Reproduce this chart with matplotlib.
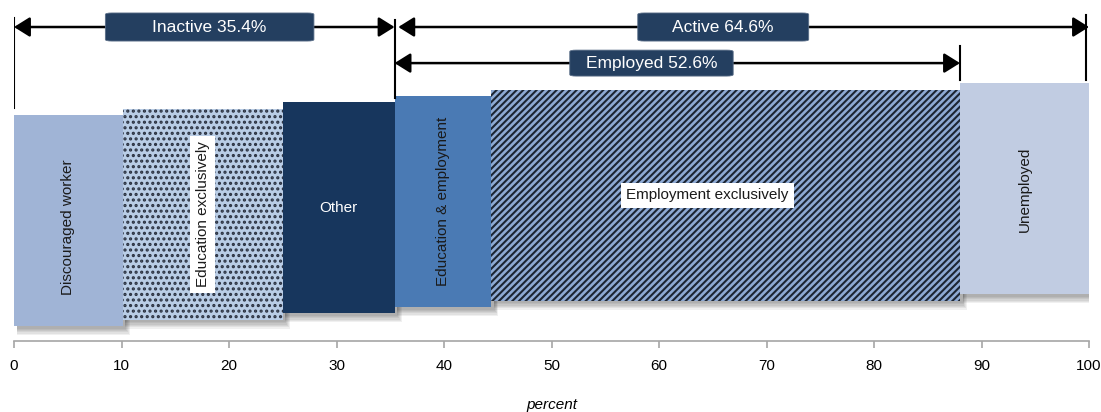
import matplotlib
matplotlib.use("Agg")
import numpy as np
import matplotlib.pyplot as plt
from matplotlib.patches import Rectangle, FancyBboxPatch

# -----------------------------
# DATA
# -----------------------------
categories = ["Discouraged worker", "Education exclusively", "Other",
              "Education & employment", "Employment exclusively", "Unemployed"]
shares = [10.1, 14.9, 10.4, 9.0, 43.6, 12.0]

groups = ["Inactive", "Active", "Employed"]
group_shares = [35.4, 64.6, 52.6]

xticks = [0, 10, 20, 30, 40, 50, 60, 70, 80, 90, 100]

# -----------------------------
# STYLE
# -----------------------------
FONT = ["Liberation Sans", "DejaVu Sans"]
plt.rcParams["hatch.linewidth"] = 1.5

fills = ["#a0b4d6", "#b9cde6", "#17365d", "#4a7ab4", "#8eaad4", "#c1cce2"]
hatches = [None, "...", None, None, "/////", None]
hatch_cols = [None, "#2a3140", None, None, "#1c2533", None]
label_cols = ["#1a1a1a", "#1a1a1a", "white", "#1a1a1a", "#1a1a1a", "#1a1a1a"]
label_rot = [90, 90, 0, 90, 0, 90]
label_box = [False, True, False, False, True, False]
label_dx = [0, 0, 0, 0, -1.7, 0]
label_dy = [-0.03, 0, 0, 0, 0, 0]
step = 0.03  # each bar sits a bit higher than the previous one
box_col = "#243f60"

fig = plt.figure(figsize=(11.01, 4.12), dpi=100)
ax = fig.add_axes([14 / 1101, 71 / 412, 1075 / 1101, 341 / 412])
ax.set_xlim(0, 100)
ax.set_ylim(-0.071, 1.545)

lefts = np.concatenate([[0], np.cumsum(shares)[:-1]])

# soft drop shadows, down and to the right only
for i, (l, w) in enumerate(zip(lefts, shares)):
    b = i * step
    for k in range(6):
        ax.add_patch(Rectangle((l + 0.25, b - 0.012 - k * 0.006), w + 0.08 * k, 0.9,
                               facecolor="black", edgecolor="none", alpha=0.06, zorder=1))

# bars
for i, (l, w) in enumerate(zip(lefts, shares)):
    b = i * step
    if hatches[i]:
        ax.add_patch(Rectangle((l, b), w, 1, facecolor=fills[i], edgecolor=hatch_cols[i],
                               hatch=hatches[i], linewidth=0, zorder=2))
    else:
        ax.add_patch(Rectangle((l, b), w, 1, facecolor=fills[i], edgecolor="none", zorder=2))

    bbox = dict(facecolor="white", edgecolor="none", pad=4) if label_box[i] else None
    ax.text(l + w / 2 + label_dx[i], b + 0.5 + label_dy[i], categories[i], rotation=label_rot[i],
            ha="center", va="center", color=label_cols[i], fontsize=11,
            family=FONT, bbox=bbox, zorder=4)

# -----------------------------
# BRACKETS
# -----------------------------
inactive_end = sum(shares[:3])
employed_end = inactive_end + sum(shares[3:5])

def bracket(x0, x1, y, text, box_w, box_dx, box_h):
    ax.annotate("", xy=(x1, y), xytext=(x0, y),
                arrowprops=dict(arrowstyle="<|-|>,head_length=0.4,head_width=0.25",
                                color="black", lw=1.8, mutation_scale=24,
                                shrinkA=0, shrinkB=0), zorder=5)
    cx = (x0 + x1) / 2 + box_dx
    ax.add_patch(FancyBboxPatch((cx - box_w / 2, y - box_h / 2), box_w, box_h,
                                boxstyle="round,pad=0,rounding_size=0.6",
                                mutation_aspect=0.012,
                                facecolor=box_col, edgecolor="#5a6e88", linewidth=0.6, zorder=6))
    ax.text(cx, y, text, ha="center", va="center", color="white",
            fontsize=12.5, family=FONT, zorder=7)

y_top = 1.417
y_emp = 1.246
bracket(0, inactive_end, y_top, f"{groups[0]} {group_shares[0]}%", 19.4, 0.5, 0.133)
bracket(inactive_end + 0.35, 100, y_top, f"{groups[1]} {group_shares[1]}%", 15.9, -1.9, 0.133)
bracket(inactive_end, employed_end, y_emp, f"{groups[2]} {group_shares[2]}%", 15.2, -2.4, 0.123)

# vertical guide lines
ax.plot([0, 0], [1.46, 1.033], color="black", lw=1.5, zorder=5)
ax.plot([inactive_end, inactive_end], [1.45, 1.08], color="black", lw=1.5, zorder=5)
ax.plot([99.7, 99.7], [1.474, 1.166], color="black", lw=1.5, zorder=5)
ax.plot([employed_end, employed_end], [1.327, 1.166], color="black", lw=1.5, zorder=5)

# -----------------------------
# AXES
# -----------------------------
for s in ["top", "right", "left"]:
    ax.spines[s].set_visible(False)
ax.spines["bottom"].set_color("#a6a6a6")
ax.spines["bottom"].set_linewidth(1.2)
ax.set_yticks([])
ax.set_xticks(xticks)
ax.set_xticklabels([str(t) for t in xticks], family=FONT, fontsize=11)
ax.tick_params(axis="x", direction="out", length=5, color="#a6a6a6", width=1.2, pad=8)
ax.set_xlabel("percent", family=FONT, fontsize=11, style="italic", labelpad=18)

fig.savefig("out.png", dpi=100)
